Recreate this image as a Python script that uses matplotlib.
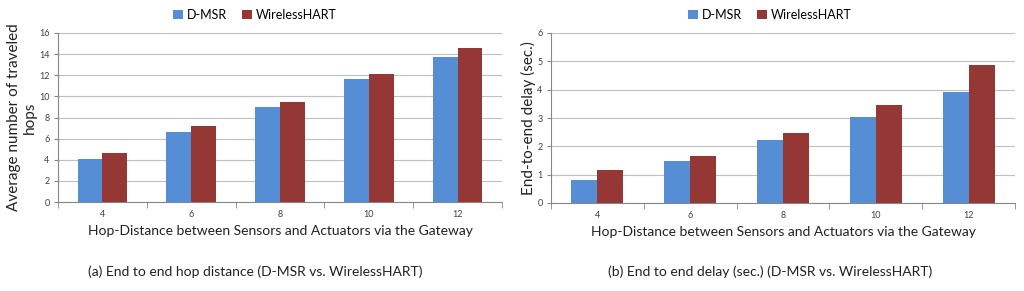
import matplotlib
matplotlib.use("Agg")
import matplotlib.pyplot as plt
import numpy as np

plt.rcParams['font.family'] = ['Lato', 'DejaVu Sans']

categories = ["4", "6", "8", "10", "12"]
hops_dmsr = [4.05, 6.65, 9.0, 11.6, 13.75]
hops_whart = [4.6, 7.2, 9.45, 12.15, 14.6]
delay_dmsr = [0.8, 1.48, 2.23, 3.04, 3.93]
delay_whart = [1.18, 1.65, 2.48, 3.45, 4.87]
series_names = ["D-MSR", "WirelessHART"]

BLUE = "#558ED5"
RED = "#953735"
GRID = "#BFBFBF"
AX = "#868686"

fig = plt.figure(figsize=(10.24, 2.91), dpi=100)

def panel(rect, s1, s2, ymax, ylabel, caption, legend_x, ylabel_x):
    ax = fig.add_axes(rect)
    x = np.arange(len(categories))
    w = 0.28
    ax.bar(x - w / 2, s1, w, color=BLUE, label=series_names[0], zorder=3)
    ax.bar(x + w / 2, s2, w, color=RED, label=series_names[1], zorder=3)
    ax.set_xlim(-0.5, len(categories) - 0.5)
    ax.set_ylim(0, ymax)
    step = 2 if ymax > 10 else 1
    ax.set_yticks(np.arange(0, ymax + 0.01, step))
    ax.yaxis.grid(True, color=GRID, linewidth=0.8, zorder=0)
    ax.set_xticks(x)
    ax.set_xticklabels(categories)
    ax.set_xticks(np.arange(-0.5, len(categories), 1), minor=True)
    ax.tick_params(axis='x', which='major', length=0, labelsize=6.5, pad=6, colors='#404040')
    ax.tick_params(axis='x', which='minor', length=4, color=AX)
    ax.tick_params(axis='y', length=3, labelsize=6.5, color=AX, labelcolor='#404040', pad=3)
    for s in ['top', 'right']:
        ax.spines[s].set_visible(False)
    for s in ['left', 'bottom']:
        ax.spines[s].set_color(AX)
        ax.spines[s].set_linewidth(0.8)
    ax.set_xlabel("Hop-Distance between Sensors and Actuators via the Gateway",
                  fontsize=10, labelpad=4, color='#222222')
    fig.text(ylabel_x, rect[1] + rect[3] / 2, ylabel, rotation=90, fontsize=11,
             ha='center', va='center', color='#222222', linespacing=1.1)
    ax.legend(loc='center', bbox_to_anchor=(legend_x, 1 - 15 / 291), bbox_transform=fig.transFigure,
              ncol=2, frameon=False, fontsize=9, handlelength=0.8, handleheight=0.8,
              columnspacing=1.2, handletextpad=0.3)
    fig.text(legend_x, 1 - 272 / 291, caption, ha='center', va='center', fontsize=10, color='#222222')
    return ax

panel([58 / 1024, 1 - 202 / 291, 444 / 1024, 169 / 291], hops_dmsr, hops_whart, 16,
      "Average number of traveled\nhops", "(a) End to end hop distance (D-MSR vs. WirelessHART)",
      255 / 1024, 22 / 1024)
panel([551 / 1024, 1 - 203 / 291, 464 / 1024, 170 / 291], delay_dmsr, delay_whart, 6,
      "End-to-end delay (sec.)", "(b) End to end delay (sec.) (D-MSR vs. WirelessHART)",
      770 / 1024, 528 / 1024)

fig.savefig("out.png", dpi=100)
